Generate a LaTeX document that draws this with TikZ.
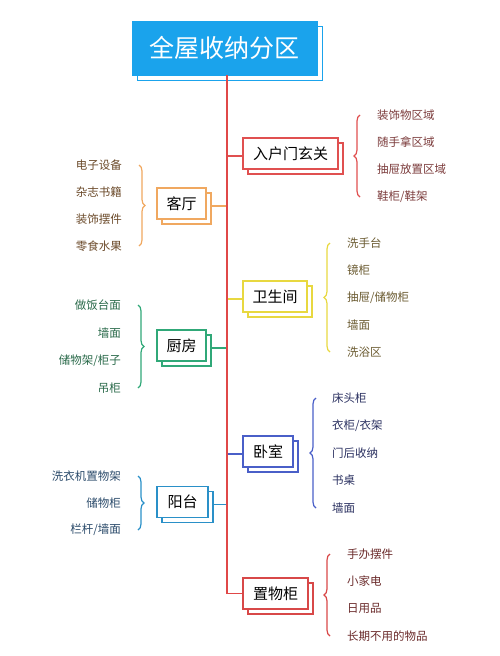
\documentclass[tikz,border=0pt]{standalone}
\usepackage{fontspec}
\setmainfont{Noto Sans CJK SC}
\usetikzlibrary{decorations.pathreplacing,shadows}
\definecolor{titleblue}{HTML}{1AA3EC}
\definecolor{trunkred}{HTML}{E04848}
\definecolor{cRed}{HTML}{E05050}\definecolor{tRed}{HTML}{7B3B3B}
\definecolor{cOrange}{HTML}{F0A860}\definecolor{tOrange}{HTML}{6B4A2A}
\definecolor{cYellow}{HTML}{E8D840}\definecolor{tYellow}{HTML}{6A5A30}
\definecolor{cGreen}{HTML}{30A878}\definecolor{tGreen}{HTML}{2A6A4A}
\definecolor{cBlue}{HTML}{4A5FC8}\definecolor{tBlue}{HTML}{2A3060}
\definecolor{cTeal}{HTML}{2A90C8}\definecolor{tTeal}{HTML}{2A4A6A}
\definecolor{cDRed}{HTML}{D84848}\definecolor{tDRed}{HTML}{6A2A2A}
\begin{document}
\begin{tikzpicture}[x=1pt,y=-1pt,
  branchbox/.style={draw=#1, line width=1.3pt, fill=white, minimum height=31pt, inner sep=0pt,
    font=\fontsize{15}{18}\selectfont,
    copy shadow={shadow xshift=5pt, shadow yshift=-5pt}},
  conn/.style={draw=#1, line width=1.3pt},
  bracestyle/.style={draw=#1, line width=1.2pt, decorate, decoration={brace, amplitude=6pt}},
  itemtxt/.style={text=#1, font=\fontsize{11.5}{13}\selectfont, inner sep=0pt}
]
\useasboundingbox (0,0) rectangle (500,656);
\coordinate (trunk) at (227,0);
% title
\node[fill=titleblue, draw=titleblue, minimum width=185pt, minimum height=54pt, inner sep=0pt,
  text=white, font=\fontsize{25}{30}\selectfont,
  general shadow={shadow xshift=5pt, shadow yshift=-5pt, fill=white, draw=titleblue, line width=1pt}]
  (title) at (224.5,48) {全屋收纳分区};
% branch boxes
\node[branchbox=cRed, minimum width=95pt] (rh) at (290.5,153.5) {入户门玄关};
\node[branchbox=cOrange, minimum width=49pt] (kt) at (181.5,203.5) {客厅};
\node[branchbox=cYellow, minimum width=64pt] (ws) at (275,296.5) {卫生间};
\node[branchbox=cGreen, minimum width=49pt] (cf) at (181.5,345.5) {厨房};
\node[branchbox=cBlue, minimum width=50pt] (ws2) at (268,451.5) {卧室};
\node[branchbox=cTeal, minimum width=51pt] (yt) at (182.5,502) {阳台};
\node[branchbox=cDRed, minimum width=65pt] (zw) at (275.5,593.5) {置物柜};
% connectors
\draw[conn=cRed] ([yshift=-2.5pt]rh.west -| trunk) -- ([yshift=-2.5pt]rh.west);
\draw[conn=cOrange] ([xshift=5pt,yshift=-2.5pt]kt.east) -- ([yshift=-2.5pt]kt.east -| trunk);
\draw[conn=cYellow] ([yshift=-2.5pt]ws.west -| trunk) -- ([yshift=-2.5pt]ws.west);
\draw[conn=cGreen] ([xshift=5pt,yshift=-2.5pt]cf.east) -- ([yshift=-2.5pt]cf.east -| trunk);
\draw[conn=cBlue] ([yshift=-2.5pt]ws2.west -| trunk) -- ([yshift=-2.5pt]ws2.west);
\draw[conn=cTeal] ([xshift=5pt,yshift=-2.5pt]yt.east) -- ([yshift=-2.5pt]yt.east -| trunk);
% trunk
\draw[conn=trunkred] ([xshift=2.5pt]title.south) |- (zw.west);
% braces
\draw[bracestyle=cRed] (360,197) -- (360,115);
\draw[bracestyle=cOrange] (139,165) -- (139,246);
\draw[bracestyle=cYellow] (330,352) -- (330,243);
\draw[bracestyle=cGreen] (138,305) -- (138,388);
\draw[bracestyle=cBlue] (316,508) -- (316,398);
\draw[bracestyle=cTeal] (138,476) -- (138,530);
\draw[bracestyle=cDRed] (330,636) -- (330,554);
% items
\foreach \t [count=\i] in {装饰物区域,随手拿区域,抽屉放置区域,鞋柜/鞋架}
  \node[itemtxt=tRed, anchor=west] (rh\i) at (377,{115+(\i-1)*27.3}) {\t};
\foreach \t [count=\i] in {电子设备,杂志书籍,装饰摆件,零食水果}
  \node[itemtxt=tOrange, anchor=east] (kt\i) at (122,{165+(\i-1)*27}) {\t};
\foreach \t [count=\i] in {洗手台,镜柜,抽屉/储物柜,墙面,洗浴区}
  \node[itemtxt=tYellow, anchor=west] (ws\i) at (347,{243+(\i-1)*27.25}) {\t};
\foreach \t [count=\i] in {做饭台面,墙面,储物架/柜子,吊柜}
  \node[itemtxt=tGreen, anchor=east] (cf\i) at (121,{305+(\i-1)*27.7}) {\t};
\foreach \t [count=\i] in {床头柜,衣柜/衣架,门后收纳,书桌,墙面}
  \node[itemtxt=tBlue, anchor=west] (wsb\i) at (332,{398+(\i-1)*27.5}) {\t};
\foreach \t [count=\i] in {洗衣机置物架,储物柜,栏杆/墙面}
  \node[itemtxt=tTeal, anchor=east] (yt\i) at (121,{476+(\i-1)*27}) {\t};
\foreach \t [count=\i] in {手办摆件,小家电,日用品,长期不用的物品}
  \node[itemtxt=tDRed, anchor=west] (zw\i) at (347,{554+(\i-1)*27.3}) {\t};
\end{tikzpicture}
\end{document}
